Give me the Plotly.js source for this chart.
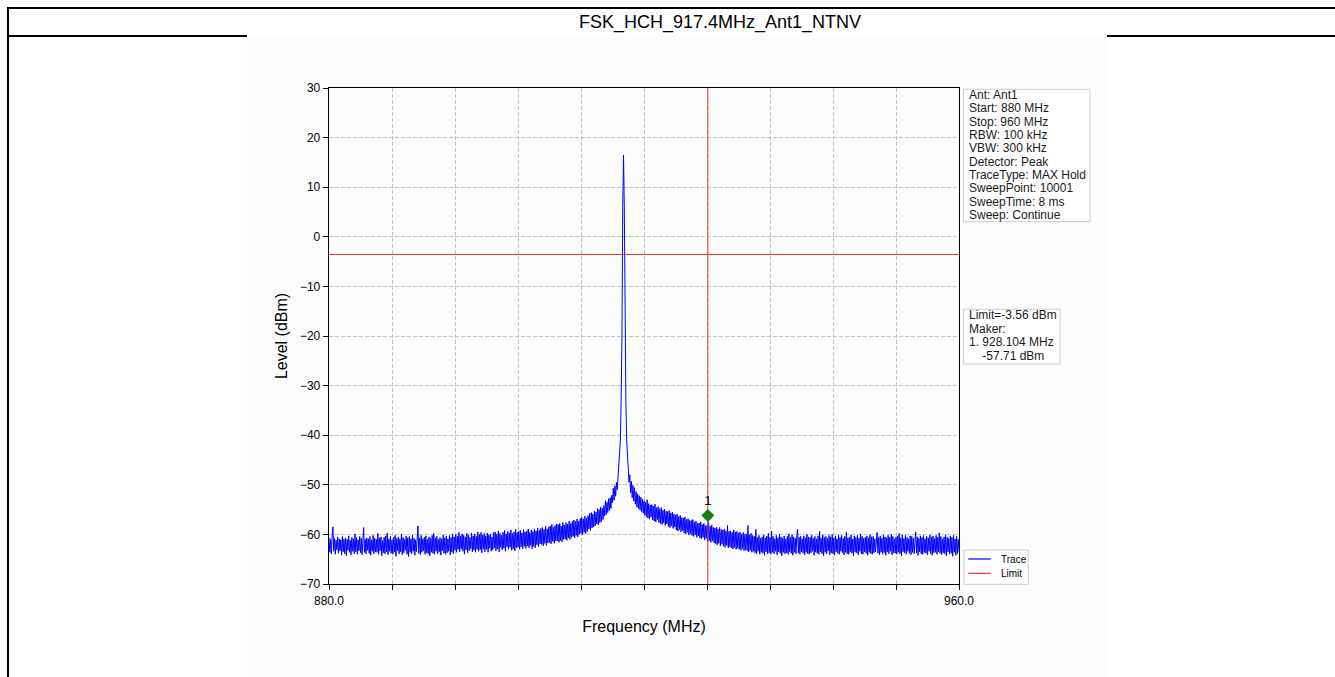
<!DOCTYPE html>
<html><head><meta charset="utf-8">
<script src="https://cdn.plot.ly/plotly-3.0.1.min.js"></script>
<style>
body{margin:0;background:#fff;width:1335px;height:677px;overflow:hidden;position:relative;font-family:Arial,"Liberation Sans",sans-serif;}
#bl{position:absolute;left:7px;top:7px;width:2px;height:700px;background:#000}
#bt{position:absolute;left:7px;top:7px;width:1400px;height:2px;background:#000}
#bm{position:absolute;left:7px;top:35px;width:1400px;height:2px;background:#000}
#title{position:absolute;left:0;top:9px;width:1440px;height:26px;line-height:26px;text-align:center;font-size:18px;color:#000}
#chart{position:absolute;left:247px;top:35px;width:860px;height:642px}
</style></head>
<body>
<div id="bl"></div><div id="bt"></div><div id="bm"></div>
<div id="title">FSK_HCH_917.4MHz_Ant1_NTNV</div>
<div id="chart"></div>
<script>
// ---------------- data ----------------
const START_MHZ = 880, STOP_MHZ = 960, STEP_MHZ = 0.1;
const xTickVals = [880, 888, 896, 904, 912, 920, 928, 936, 944, 952, 960];
const xTickText = ['880.0', '', '', '', '', '', '', '', '', '', '960.0'];
const yTickVals = [-70, -60, -50, -40, -30, -20, -10, 0, 10, 20, 30];
const limitLevel = -3.56;
const markerFreq = 928.104;
const markerPlotLevel = -56.2;
const markerLabel = '1';
const legendNames = ['Trace', 'Limit'];
const infoLines = ['Ant: Ant1', 'Start: 880 MHz', 'Stop: 960 MHz', 'RBW: 100 kHz', 'VBW: 300 kHz',
  'Detector: Peak', 'TraceType: MAX Hold', 'SweepPoint: 10001', 'SweepTime: 8 ms', 'Sweep: Continue'];
const markerLines = ['Limit=-3.56 dBm', 'Maker:', '1. 928.104 MHz', '\u00a0\u00a0\u00a0\u00a0-57.71 dBm'];

// trace levels (dBm), one row = 1 MHz at 0.1 MHz spacing
const levels880to900 = [
-60.6,-63.6,-61.0,-63.9,-60.3,-58.5,-63.4,-60.8,-64.0,-61.2,
-63.1,-60.5,-63.8,-60.9,-63.3,-61.1,-64.2,-60.4,-63.5,-60.9,
-63.9,-60.7,-64.3,-61.0,-63.2,-60.3,-63.6,-61.2,-64.1,-60.6,
-63.4,-60.9,-63.9,-59.9,-63.5,-60.6,-64.0,-61.1,-63.3,-60.4,
-63.7,-60.8,-64.1,-60.5,-58.6,-63.6,-61.0,-63.9,-60.7,-63.2,
-60.9,-63.8,-60.4,-64.2,-61.1,-63.4,-60.2,-63.9,-60.8,-63.5,
-61.0,-63.6,-59.8,-64.0,-60.7,-63.3,-60.5,-64.3,-61.2,-63.7,
-60.6,-63.9,-60.3,-63.5,-59.7,-64.1,-60.9,-63.4,-60.4,-63.8,
-61.1,-64.0,-60.6,-63.6,-60.2,-64.4,-60.8,-63.3,-60.5,-63.9,
-60.9,-63.5,-59.9,-64.1,-60.6,-63.7,-61.0,-63.2,-60.3,-64.0,
-60.7,-64.5,-60.4,-63.6,-60.9,-63.9,-60.1,-63.4,-60.8,-64.2,
-61.1,-63.5,-60.5,-58.3,-63.8,-60.7,-64.1,-60.2,-63.6,-60.9,
-63.3,-60.6,-64.0,-60.3,-63.7,-61.0,-63.9,-60.5,-64.3,-60.8,
-63.6,-60.2,-63.8,-59.8,-64.0,-60.7,-63.4,-60.4,-63.9,-61.0,
-63.5,-60.6,-64.2,-60.9,-63.3,-60.1,-63.8,-60.7,-64.0,-60.3,
-63.7,-60.9,-63.4,-60.2,-64.1,-60.6,-63.6,-59.9,-63.9,-60.5,
-63.2,-60.0,-63.6,-60.4,-63.0,-59.6,-63.5,-60.3,-62.9,-59.9,
-63.4,-60.2,-64.0,-60.5,-63.1,-59.8,-63.7,-60.1,-63.3,-60.6,
-62.9,-59.7,-63.5,-60.3,-63.2,-59.9,-63.6,-60.4,-63.0,-59.5,
-63.4,-60.0,-63.1,-59.6,-63.7,-60.2,-62.9,-59.8,-63.5,-60.3
];
const levels900to917 = [
-63.0,-59.7,-63.6,-60.1,-62.8,-59.9,-63.4,-60.5,-63.1,-59.6,
-62.7,-59.5,-63.3,-60.0,-62.9,-59.3,-63.5,-59.8,-62.6,-60.2,
-63.1,-59.6,-62.8,-59.2,-63.4,-59.9,-62.5,-59.4,-63.0,-59.7,
-62.6,-59.1,-63.2,-59.8,-62.9,-59.5,-63.3,-59.0,-62.7,-59.6,
-62.6,-59.4,-63.0,-59.2,-62.5,-59.7,-62.9,-59.0,-62.4,-59.5,
-62.8,-59.3,-62.3,-58.9,-62.7,-59.6,-62.2,-59.1,-62.9,-59.4,
-62.4,-58.9,-62.7,-59.3,-62.1,-58.7,-62.5,-59.2,-61.9,-58.8,
-62.0,-58.6,-62.3,-59.0,-61.8,-58.4,-62.2,-58.9,-61.7,-58.5,
-61.6,-58.3,-61.9,-58.0,-61.4,-58.6,-61.8,-58.2,-61.3,-57.9,
-61.3,-58.0,-61.6,-57.8,-61.2,-58.3,-61.5,-57.6,-61.0,-58.1,
-60.9,-57.6,-61.2,-57.9,-60.7,-57.3,-61.0,-57.8,-60.6,-57.4,
-60.4,-57.1,-60.7,-57.4,-60.2,-56.9,-60.5,-57.3,-60.0,-56.8,
-59.8,-56.6,-60.1,-56.9,-59.6,-56.3,-59.9,-56.7,-59.4,-56.2,
-58.9,-55.8,-59.2,-55.6,-58.7,-55.9,-58.5,-55.3,-58.3,-55.5,
-57.9,-54.8,-58.1,-55.0,-57.6,-54.5,-57.4,-54.7,-57.0,-54.2,
-56.3,-53.2,-56.0,-53.5,-55.6,-52.8,-55.2,-52.6,-54.8,-52.1,
-53.6,-50.7,-53.1,-50.2,-52.3,-49.5,-51.0,-48.3,-47.0,-44.8
];
const levelsPeak917 = [-41.0,-33.0,-20.0,6.0,16.5,6.0,-20.0,-33.0,-41.0,-44.0];
const levels918to934 = [
-46.0,-49.5,-48.0,-51.6,-49.3,-52.6,-50.1,-53.3,-50.6,-53.9,
-51.4,-54.5,-51.8,-54.8,-52.2,-55.1,-52.5,-55.4,-52.9,-55.7,
-53.2,-56.1,-53.5,-56.4,-53.0,-56.7,-53.8,-56.9,-54.1,-56.5,
-54.0,-57.1,-54.3,-57.3,-53.9,-57.5,-54.6,-57.0,-54.4,-57.6,
-54.8,-57.8,-54.6,-58.0,-55.1,-57.7,-54.9,-58.2,-55.3,-57.9,
-55.4,-58.4,-55.2,-58.6,-55.7,-58.3,-55.5,-58.8,-55.9,-58.5,
-56.1,-59.1,-55.9,-59.3,-56.4,-59.0,-56.2,-59.5,-56.6,-59.2,
-56.7,-59.7,-56.5,-59.9,-57.0,-59.6,-56.8,-60.1,-57.2,-59.8,
-57.2,-60.2,-57.0,-60.4,-57.5,-60.1,-57.3,-60.6,-57.7,-60.3,
-57.7,-60.7,-57.5,-60.9,-58.0,-60.6,-57.8,-61.1,-58.2,-60.8,
-58.2,-61.4,-57.6,-61.2,-58.4,-61.6,-58.1,-61.3,-58.6,-61.7,
-58.7,-61.9,-58.5,-62.1,-58.9,-61.8,-58.6,-62.3,-59.0,-62.0,
-59.1,-62.4,-58.9,-62.6,-59.3,-62.2,-58.2,-62.7,-59.4,-62.5,
-59.3,-62.7,-59.6,-62.9,-59.1,-62.6,-59.5,-63.0,-59.4,-62.8,
-59.7,-63.0,-59.5,-63.2,-59.9,-62.9,-59.6,-63.3,-60.0,-63.1,
-59.9,-63.3,-58.2,-63.5,-60.1,-63.2,-59.8,-63.6,-60.2,-63.4
];
const levels934to960 = [
-60.4,-63.7,-59.0,-63.9,-60.6,-63.4,-60.2,-64.0,-60.8,-63.6,
-60.5,-63.8,-60.1,-64.2,-60.7,-63.5,-60.3,-63.9,-59.8,-63.7,
-60.6,-64.0,-59.3,-63.6,-60.4,-63.9,-60.9,-63.4,-60.2,-64.1,
-60.7,-63.5,-60.0,-63.8,-60.5,-64.3,-60.8,-63.6,-60.3,-63.9,
-60.9,-63.7,-60.4,-64.0,-59.9,-63.5,-60.6,-63.8,-60.1,-64.2,
-60.5,-63.6,-60.8,-63.9,-60.2,-59.0,-63.7,-60.6,-64.0,-60.4,
-63.5,-60.9,-63.8,-60.3,-64.1,-60.7,-63.6,-60.0,-63.9,-60.5,
-64.0,-60.6,-63.7,-60.2,-63.4,-60.8,-64.2,-60.4,-63.6,-60.9,
-63.8,-60.3,-64.0,-59.4,-63.5,-60.7,-63.9,-60.1,-64.3,-60.6,
-63.6,-60.4,-63.9,-60.8,-63.3,-60.2,-64.1,-60.5,-63.7,-60.0,
-63.9,-60.7,-64.2,-60.3,-63.5,-60.9,-63.8,-60.1,-64.0,-60.6,
-63.4,-60.2,-63.7,-60.8,-64.1,-60.4,-63.6,-59.5,-63.9,-60.7,
-64.0,-60.5,-63.5,-60.1,-63.8,-60.9,-64.3,-60.3,-63.6,-60.6,
-63.7,-60.2,-64.1,-60.7,-63.4,-59.9,-63.9,-60.4,-64.0,-60.8,
-63.5,-60.6,-63.8,-60.3,-64.2,-60.7,-63.6,-60.1,-63.9,-60.5,
-64.0,-60.4,-63.7,-60.9,-63.5,-60.2,-59.6,-63.8,-60.6,-64.1,
-60.3,-63.6,-60.8,-64.0,-60.1,-63.7,-60.5,-64.2,-60.7,-63.5,
-60.2,-63.9,-60.6,-63.4,-60.0,-64.1,-60.4,-63.7,-60.9,-63.8,
-60.5,-64.0,-60.3,-63.6,-59.8,-63.9,-60.7,-64.3,-60.1,-63.5,
-60.8,-63.7,-60.2,-64.0,-60.6,-63.4,-60.9,-63.8,-60.3,-64.1,
-60.4,-63.6,-60.7,-63.9,-60.0,-59.5,-63.7,-60.5,-64.2,-60.8,
-63.5,-60.3,-63.9,-60.6,-64.0,-60.2,-63.6,-60.9,-63.8,-60.4,
-64.1,-60.7,-63.4,-60.1,-63.9,-60.5,-64.2,-60.3,-63.7,-60.8,
-63.6,-60.2,-64.0,-60.6,-63.5,-59.7,-63.8,-60.4,-64.1,-60.9,
-63.7,-60.5,-63.9,-60.1,-64.3,-60.6,-63.5,-60.8,-64.0,-60.3,
-63.8,-60.6,-64.4,-60.2,-63.6,-60.9,-64.2,-60.4,-63.9,-61.0,
-63.5
];

// ---------------- build ----------------
const levels = [].concat(levels880to900, levels900to917, levelsPeak917, levels918to934, levels934to960);
const freqs = levels.map((_, i) => +(START_MHZ + i * STEP_MHZ).toFixed(2));

const FONT = 'Arial, "Liberation Sans", sans-serif';
const TRACE_COLOR = '#0000ff', LIMIT_COLOR = '#e8302f';
// plot-area pixel geometry inside the chart div (for placing side boxes)
const PLOT_L = 82, PLOT_W = 630, PLOT_T = 53, PLOT_H = 496;
const DIV_X = 247, DIV_Y = 35;
const px2x = X => (X - DIV_X - PLOT_L) / PLOT_W;
const px2y = Y => 1 - (Y - DIV_Y - PLOT_T) / PLOT_H;

const traces = [
  {x: freqs, y: levels, type: 'scatter', mode: 'lines', name: legendNames[0],
   line: {color: TRACE_COLOR, width: 1}, showlegend: false},
  {x: [START_MHZ, STOP_MHZ], y: [limitLevel, limitLevel], type: 'scatter', mode: 'lines', name: legendNames[1],
   line: {color: LIMIT_COLOR, width: 1}, showlegend: false},
  {x: [markerFreq, markerFreq], y: [-70, 30], type: 'scatter', mode: 'lines', showlegend: false,
   line: {color: LIMIT_COLOR, width: 1}},
  {x: [markerFreq], y: [markerPlotLevel], type: 'scatter', mode: 'markers+text', showlegend: false,
   text: [markerLabel], textposition: 'top center', textfont: {family: FONT, size: 13, color: '#000'},
   marker: {symbol: 'diamond', size: 10, color: '#108010'}}
];

const boxStyle = {type: 'rect', xref: 'paper', yref: 'paper', fillcolor: '#ffffff',
  line: {color: '#cccccc', width: 1}, layer: 'above'};
const shapes = [
  Object.assign({}, boxStyle, {x0: px2x(963.5), x1: px2x(1090), y0: px2y(221.7), y1: px2y(89.3)}),
  Object.assign({}, boxStyle, {x0: px2x(963.5), x1: px2x(1060), y0: px2y(364), y1: px2y(309.3)}),
  // legend box and samples
  Object.assign({}, boxStyle, {x0: px2x(964), x1: px2x(1028.3), y0: px2y(584.3), y1: px2y(550)}),
  {type: 'line', xref: 'paper', yref: 'paper', x0: px2x(968.3), x1: px2x(990.7), y0: px2y(559), y1: px2y(559),
   line: {color: TRACE_COLOR, width: 1.2}, layer: 'above'},
  {type: 'line', xref: 'paper', yref: 'paper', x0: px2x(968.3), x1: px2x(990.7), y0: px2y(573.3), y1: px2y(573.3),
   line: {color: LIMIT_COLOR, width: 1.2}, layer: 'above'}
];

const annotations = [];
infoLines.forEach((t, k) => annotations.push({
  xref: 'paper', yref: 'paper', x: px2x(966.5), y: px2y(95 + 13.33 * k), xanchor: 'left', yanchor: 'middle',
  text: t, showarrow: false, font: {family: FONT, size: 12, color: '#1a1a1a'}}));
markerLines.forEach((t, k) => annotations.push({
  xref: 'paper', yref: 'paper', x: px2x(966.5), y: px2y(315 + 13.5 * k), xanchor: 'left', yanchor: 'middle',
  text: t, showarrow: false, font: {family: FONT, size: 12, color: '#1a1a1a'}}));
legendNames.forEach((t, k) => annotations.push({
  xref: 'paper', yref: 'paper', x: px2x(998.5), y: px2y(559 + 14.3 * k), xanchor: 'left', yanchor: 'middle',
  text: t, showarrow: false, font: {family: FONT, size: 10, color: '#000'}}));

const axisCommon = {
  showline: true, linecolor: '#000', linewidth: 1.3, mirror: true,
  ticks: 'outside', ticklen: 5, tickwidth: 1, tickcolor: '#000',
  showgrid: true, gridcolor: '#b4b4b4', griddash: '4px,2px', gridwidth: 0.8,
  zeroline: false, tickfont: {family: FONT, size: 12, color: '#000'}
};

const layout = {
  width: 860, height: 642,
  margin: {l: PLOT_L, r: 860 - PLOT_L - PLOT_W, t: PLOT_T, b: 642 - PLOT_T - PLOT_H},
  paper_bgcolor: '#fcfcfc', plot_bgcolor: '#fcfcfc',
  font: {family: FONT, color: '#000'},
  xaxis: Object.assign({}, axisCommon, {
    range: [START_MHZ, STOP_MHZ], tickmode: 'array', tickvals: xTickVals, ticktext: xTickText,
    title: {text: 'Frequency (MHz)', font: {family: FONT, size: 16, color: '#000'}, standoff: 14}
  }),
  yaxis: Object.assign({}, axisCommon, {
    range: [-70, 30], tickmode: 'array', tickvals: yTickVals,
    title: {text: 'Level (dBm)', font: {family: FONT, size: 16, color: '#000'}, standoff: 8}
  }),
  showlegend: false,
  shapes: shapes,
  annotations: annotations
};

Plotly.newPlot('chart', traces, layout, {displayModeBar: false, staticPlot: true});
</script>
</body></html>
